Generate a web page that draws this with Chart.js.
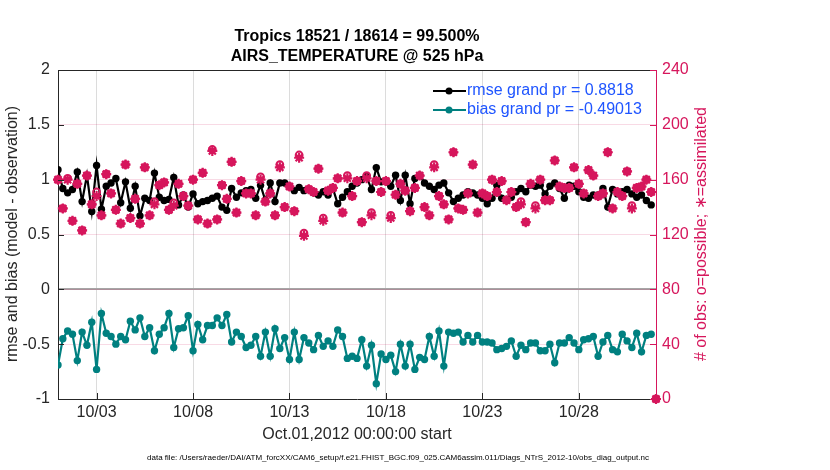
<!DOCTYPE html>
<html>
<head>
<meta charset="utf-8">
<title>Tropics AIRS_TEMPERATURE @ 525 hPa</title>
<script src="https://cdn.jsdelivr.net/npm/chart.js@4.4.0/dist/chart.umd.min.js"></script>
<style>
    html, body { margin: 0; padding: 0; background: #ffffff; }
    #wrap { width: 830px; height: 470px; }
</style>
</head>
<body>
<div id="wrap"><canvas id="obsChart" width="830" height="470"></canvas></div>
<script>
// Tick labels (days since Oct.01 00Z)
const tickDays = [2, 7, 12, 17, 22, 27];
const tickLabels = ['10/03', '10/08', '10/13', '10/18', '10/23', '10/28'];
const leftTicks = [-1, -0.5, 0, 0.5, 1, 1.5, 2];
const rightTicks = [0, 40, 80, 120, 160, 200, 240];

// 6-hourly bins
const rmse = [
    1.09, 0.92, 0.88, 0.91, 1.07, 0.80, 1.04, 0.71, 1.13, 0.73,
    0.94, 0.97, 1.01, 0.79, 0.98, 0.74, 0.94, 0.67, 0.83, 0.81,
    1.06, 0.84, 0.81, 0.82, 1.02, 0.77, 0.86, 0.75, 0.87, 0.78,
    0.80, 0.81, 0.83, 0.85, 0.75, 0.72, 0.92, 0.84, 0.88, 0.90,
    0.91, 0.83, 0.95, 0.81, 0.97, 0.80, 0.97, 0.97, 0.94, 0.90,
    0.93, 0.90, 0.91, 0.88, 0.86, 0.89, 0.86, 0.92, 0.78, 0.84,
    0.89, 0.94, 0.97, 1.00, 1.03, 0.91, 1.11, 0.98, 0.98, 0.94,
    1.04, 0.81, 1.04, 0.78, 1.01, 1.04, 0.97, 0.94, 0.91, 0.95,
    0.97, 0.88, 0.80, 0.83, 0.86, 0.89, 0.88, 0.86, 0.83, 0.78,
    0.83, 0.95, 0.83, 0.81, 0.84, 0.89, 0.92, 0.89, 0.95, 0.94,
    0.95, 0.87, 0.94, 0.97, 0.92, 0.83, 0.95, 0.94, 0.89, 0.84,
    0.83, 0.86, 0.86, 0.92, 0.75, 0.91, 0.87, 0.89, 0.91, 0.87,
    0.84, 0.86, 0.81, 0.77
];

const bias = [
    -0.69, -0.45, -0.38, -0.41, -0.65, -0.39, -0.51, -0.30, -0.73, -0.22,
    -0.40, -0.43, -0.50, -0.43, -0.46, -0.29, -0.37, -0.26, -0.43, -0.35,
    -0.56, -0.41, -0.35, -0.22, -0.53, -0.36, -0.35, -0.24, -0.56, -0.32,
    -0.46, -0.33, -0.33, -0.26, -0.33, -0.23, -0.48, -0.39, -0.43, -0.53,
    -0.51, -0.43, -0.61, -0.39, -0.61, -0.36, -0.54, -0.44, -0.64, -0.39,
    -0.64, -0.44, -0.49, -0.55, -0.42, -0.52, -0.47, -0.52, -0.37, -0.43,
    -0.63, -0.61, -0.63, -0.46, -0.70, -0.51, -0.86, -0.59, -0.64, -0.60,
    -0.75, -0.50, -0.70, -0.50, -0.73, -0.62, -0.64, -0.43, -0.61, -0.38,
    -0.70, -0.39, -0.40, -0.39, -0.48, -0.42, -0.48, -0.42, -0.48, -0.48,
    -0.49, -0.55, -0.54, -0.52, -0.47, -0.61, -0.51, -0.55, -0.49, -0.49,
    -0.56, -0.56, -0.50, -0.67, -0.49, -0.49, -0.44, -0.49, -0.55, -0.46,
    -0.45, -0.43, -0.61, -0.48, -0.42, -0.55, -0.57, -0.41, -0.47, -0.53,
    -0.40, -0.57, -0.42, -0.41
];

const possible = [
    160, 139, 161, 130, 157, 123, 163, 142, 151, 134,
    164, 150, 138, 128, 171, 132, 146, 128, 169, 134,
    144, 156, 158, 138, 143, 157, 148, 141, 160, 131,
    165, 128, 182, 131, 156, 146, 173, 136, 159, 150,
    150, 134, 162, 144, 150, 134, 171, 140, 155, 137,
    178, 121, 153, 151, 168, 132, 152, 154, 161, 136,
    163, 148, 159, 129, 163, 136, 159, 151, 159, 134,
    149, 157, 152, 137, 154, 163, 140, 134, 171, 148,
    142, 131, 180, 139, 138, 150, 171, 136, 150, 148,
    160, 151, 159, 145, 151, 140, 144, 129, 157, 141,
    160, 145, 145, 174, 155, 154, 154, 169, 157, 150,
    167, 163, 148, 150, 180, 139, 151, 148, 166, 141,
    154, 155, 160, 151, 0
];

const assimilated = [
    160, 139, 160, 130, 157, 123, 163, 142, 148, 134,
    164, 150, 138, 128, 171, 132, 146, 128, 169, 134,
    142, 156, 158, 138, 141, 157, 148, 141, 160, 131,
    165, 128, 181, 131, 156, 146, 173, 136, 159, 150,
    150, 134, 160, 144, 150, 134, 169, 140, 155, 137,
    176, 119, 153, 151, 168, 130, 152, 154, 161, 136,
    161, 148, 159, 129, 161, 134, 159, 151, 159, 132,
    149, 157, 152, 137, 154, 163, 140, 134, 169, 148,
    142, 131, 180, 139, 138, 150, 171, 136, 150, 148,
    160, 151, 159, 145, 151, 140, 142, 129, 157, 139,
    160, 145, 145, 174, 155, 154, 154, 169, 157, 150,
    167, 163, 148, 150, 180, 139, 151, 148, 166, 139,
    154, 155, 160, 151, 0
];

const OBS_RED = 'rgb(214, 22, 92)';
const TEAL = 'rgb(0, 128, 128)';
const AXIS_DARK = '#262626';
const LEGEND_BLUE = '#1f55ff';
const FONT = '"Liberation Sans", Arial, Helvetica, sans-serif';

// chart area edges in canvas pixels
const AREA = { left: 58, right: 656, top: 70, bottom: 399 };

function toPoints(values) {
    return values.map((v, i) => ({ x: i / 4, y: v }));
}

/**
 * Inward tick marks, box top and every text outside the axes
 */
const decorPlugin = {
    id: 'decor',
    afterDraw(chart) {
        const ctx = chart.ctx;
        const a = chart.chartArea;
        const xs = chart.scales.x, yl = chart.scales.y, yr = chart.scales.y1;
        ctx.save();

        // top of the box
        ctx.strokeStyle = AXIS_DARK;
        ctx.lineWidth = 1;
        ctx.beginPath();
        ctx.moveTo(a.left, a.top + 0.5);
        ctx.lineTo(a.right, a.top + 0.5);
        ctx.stroke();

        // inward ticks
        ctx.beginPath();
        tickDays.forEach(d => {
            const px = Math.round(xs.getPixelForValue(d)) + 0.5;
            ctx.moveTo(px, a.bottom);
            ctx.lineTo(px, a.bottom - 6);
        });
        leftTicks.forEach(v => {
            const py = Math.round(yl.getPixelForValue(v)) + 0.5;
            ctx.moveTo(a.left, py);
            ctx.lineTo(a.left + 6, py);
        });
        ctx.stroke();
        ctx.strokeStyle = OBS_RED;
        ctx.beginPath();
        rightTicks.forEach(v => {
            const py = Math.round(yr.getPixelForValue(v)) + 0.5;
            ctx.moveTo(a.right, py);
            ctx.lineTo(a.right - 6, py);
        });
        ctx.stroke();

        // titles
        ctx.fillStyle = '#000';
        ctx.textAlign = 'center';
        ctx.textBaseline = 'middle';
        ctx.font = 'bold 16px ' + FONT;
        ctx.fillText('Tropics 18521 / 18614 = 99.500%', 357, 37);
        ctx.fillText('AIRS_TEMPERATURE @ 525 hPa', 357, 57);

        ctx.fillStyle = AXIS_DARK;
        ctx.font = '16px ' + FONT;
        ctx.fillText('Oct.01,2012 00:00:00 start', 357, 435);

        ctx.font = '8px ' + FONT;
        ctx.fillStyle = '#000';
        ctx.fillText('data file: /Users/raeder/DAI/ATM_forcXX/CAM6_setup/f.e21.FHIST_BGC.f09_025.CAM6assim.011/Diags_NTrS_2012-10/obs_diag_output.nc', 398, 458);

        // axis titles
        ctx.font = '16px ' + FONT;
        ctx.save();
        ctx.translate(13, 234);
        ctx.rotate(-Math.PI / 2);
        ctx.fillStyle = AXIS_DARK;
        ctx.fillText('rmse and bias (model - observation)', 0, 0);
        ctx.restore();
        ctx.save();
        ctx.translate(702, 234);
        ctx.rotate(-Math.PI / 2);
        ctx.fillStyle = OBS_RED;
        ctx.fillText('# of obs: o=possible; \u2217=assimilated', 0, 0);
        ctx.restore();

        // legend
        const rows = [
            { color: '#000', text: 'rmse grand pr = 0.8818', y: 91 },
            { color: TEAL, text: 'bias grand pr = -0.49013', y: 110 }
        ];
        rows.forEach(r => {
            ctx.strokeStyle = r.color;
            ctx.fillStyle = r.color;
            ctx.lineWidth = 2;
            ctx.beginPath();
            ctx.moveTo(433, r.y);
            ctx.lineTo(466, r.y);
            ctx.stroke();
            ctx.beginPath();
            ctx.arc(449, r.y, 3.5, 0, Math.PI * 2);
            ctx.fill();
            ctx.fillStyle = LEGEND_BLUE;
            ctx.textAlign = 'left';
            ctx.font = '16px ' + FONT;
            ctx.fillText(r.text, 467, r.y);
        });

        ctx.restore();
    }
};

function initializeChart() {
    const ctx = document.getElementById('obsChart').getContext('2d');
    new Chart(ctx, {
        type: 'line',
        data: {
            datasets: [
                {
                    label: 'possible',
                    data: toPoints(possible),
                    yAxisID: 'y1',
                    showLine: false,
                    pointStyle: 'circle',
                    pointRadius: 3.4,
                    pointBorderWidth: 2,
                    borderColor: OBS_RED,
                    backgroundColor: 'rgba(0,0,0,0)',
                    clip: false,
                    order: 0
                },
                {
                    label: 'assimilated',
                    data: toPoints(assimilated),
                    yAxisID: 'y1',
                    showLine: false,
                    pointStyle: 'star',
                    pointRadius: 5,
                    pointBorderWidth: 2.2,
                    borderColor: OBS_RED,
                    backgroundColor: OBS_RED,
                    clip: false,
                    order: 0
                },
                {
                    label: 'rmse grand pr = 0.8818',
                    data: toPoints(rmse),
                    yAxisID: 'y',
                    borderColor: '#000',
                    backgroundColor: '#000',
                    borderWidth: 2.2,
                    pointRadius: 3.7,
                    pointBorderWidth: 0,
                    tension: 0,
                    order: 1
                },
                {
                    label: 'bias grand pr = -0.49013',
                    data: toPoints(bias),
                    yAxisID: 'y',
                    borderColor: TEAL,
                    backgroundColor: TEAL,
                    borderWidth: 2.2,
                    pointRadius: 3.7,
                    pointBorderWidth: 0,
                    tension: 0,
                    order: 1
                }
            ]
        },
        options: {
            responsive: false,
            animation: false,
            devicePixelRatio: 1,
            layout: { padding: { left: 0, right: 0, top: AREA.top, bottom: 0 } },
            plugins: {
                legend: { display: false },
                tooltip: { enabled: false }
            },
            scales: {
                x: {
                    type: 'linear',
                    min: 0,
                    max: 31,
                    afterBuildTicks: (scale) => {
                        scale.ticks = tickDays.map(v => ({ value: v }));
                    },
                    afterFit: (scale) => { scale.height = 470 - AREA.bottom; },
                    ticks: {
                        color: AXIS_DARK,
                        font: { family: FONT, size: 16 },
                        padding: 4,
                        maxRotation: 0,
                        callback: (v) => tickLabels[tickDays.indexOf(v)]
                    },
                    grid: { color: '#dcdcdc', lineWidth: 1, drawTicks: false },
                    border: { color: AXIS_DARK, width: 1 }
                },
                y: {
                    position: 'left',
                    min: -1,
                    max: 2,
                    afterBuildTicks: (scale) => {
                        scale.ticks = leftTicks.map(v => ({ value: v }));
                    },
                    afterFit: (scale) => { scale.width = AREA.left; },
                    ticks: {
                        color: AXIS_DARK,
                        font: { family: FONT, size: 16 },
                        padding: 8,
                        callback: (v) => String(v)
                    },
                    grid: {
                        drawTicks: false,
                        color: (c) => (c.tick && c.tick.value === 0) ? '#a6a6a6' : 'rgba(0,0,0,0)',
                        lineWidth: (c) => (c.tick && c.tick.value === 0) ? 2 : 1
                    },
                    border: { color: AXIS_DARK, width: 1 }
                },
                y1: {
                    position: 'right',
                    min: 0,
                    max: 240,
                    afterBuildTicks: (scale) => {
                        scale.ticks = rightTicks.map(v => ({ value: v }));
                    },
                    afterFit: (scale) => { scale.width = 830 - AREA.right; },
                    ticks: {
                        color: OBS_RED,
                        font: { family: FONT, size: 16 },
                        padding: 6,
                        callback: (v) => String(v)
                    },
                    grid: {
                        drawTicks: false,
                        color: (c) => (c.tick && (c.tick.value === 0 || c.tick.value === 240)) ? 'rgba(0,0,0,0)' : 'rgba(214, 22, 92, 0.16)'
                    },
                    border: { color: OBS_RED, width: 1 }
                }
            }
        },
        plugins: [decorPlugin]
    });
}

if (document.readyState === 'loading') {
    document.addEventListener('DOMContentLoaded', initializeChart);
} else {
    initializeChart();
}
</script>
</body>
</html>
